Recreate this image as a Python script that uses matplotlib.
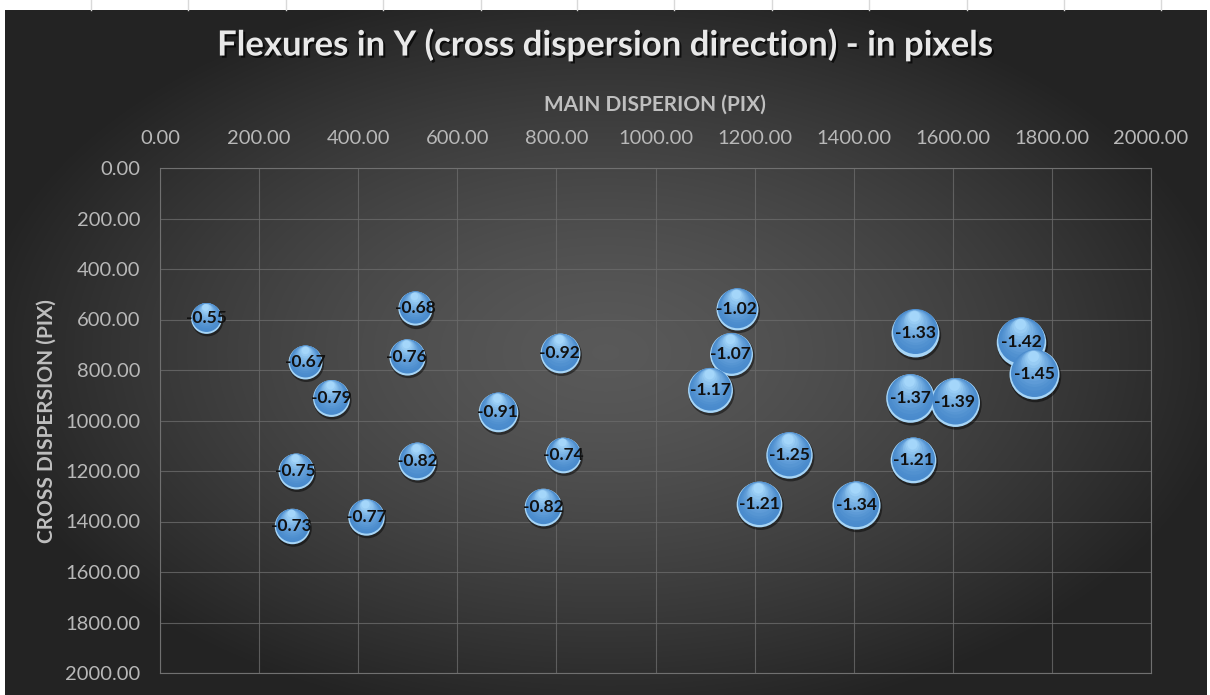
import numpy as np
import matplotlib
matplotlib.use('Agg')
import matplotlib.pyplot as plt
import matplotlib.patheffects as pe
from matplotlib.colors import to_rgb
from matplotlib.transforms import ScaledTranslation

plt.rcParams['font.family'] = ['Lato', 'DejaVu Sans']

# Flexure measurements: position on the detector and shift in Y (pixels)
main_disp = [93, 515, 293, 498, 345, 807, 682, 274, 519, 813, 266, 416, 773,
             1164, 1152, 1110, 1270, 1209, 1405, 1524, 1514, 1604, 1520, 1738, 1764]
cross_disp = [594, 556, 768, 748, 911, 733, 966, 1200, 1160, 1137, 1418, 1382, 1343,
              558, 737, 879, 1137, 1331, 1335, 653, 911, 927, 1156, 689, 816]
flexure_y = [-0.55, -0.68, -0.67, -0.76, -0.79, -0.92, -0.91, -0.75, -0.82, -0.74, -0.73, -0.77, -0.82,
             -1.02, -1.07, -1.17, -1.25, -1.21, -1.34, -1.33, -1.37, -1.39, -1.21, -1.42, -1.45]

x_ticks = np.arange(0, 2001, 200)
y_ticks = np.arange(0, 2001, 200)

W, H = 1210, 695
fig = plt.figure(figsize=(W / 100, H / 100), dpi=100)
fig.patch.set_facecolor('white')

# spreadsheet cell lines peeking out above the chart
for gx in [91, 188, 286, 383, 481, 577, 674, 772, 869, 967, 1064, 1161]:
    fig.add_artist(plt.Line2D([gx / W, gx / W], [1 - 10 / H, 1], color='#d9d9d9', lw=1))

# chart area with radial shading
bg = fig.add_axes([5 / W, 0, 1202 / W, 1 - 10 / H])
gx, gy = np.meshgrid(np.linspace(-1, 1, 600), np.linspace(-1, 1, 340))
r = np.clip(np.sqrt((gx / 1.05) ** 2 + (gy / 1.1) ** 2), 0, 1)
shade = 0.35 - 0.21 * r ** 1.4
bg.imshow(np.dstack([shade] * 3), aspect='auto', extent=[0, 1, 0, 1], interpolation='bilinear')
bg.set_axis_off()

ax = fig.add_axes([160 / W, 1 - 673 / H, 991 / W, 505 / H])
ax.patch.set_alpha(0)
ax.set_xlim(0, 2000)
ax.set_ylim(2000, 0)
ax.set_xticks(x_ticks)
ax.set_yticks(y_ticks)
ax.set_xticklabels([f'{v:.2f}' for v in x_ticks])
ax.set_yticklabels([f'{v:.2f}' for v in y_ticks])
ax.xaxis.tick_top()
ax.tick_params(axis='x', length=0, pad=15, labelsize=14.5, labelcolor='#b8b8b8')
ax.tick_params(axis='y', length=0, pad=14, labelsize=14.5, labelcolor='#b8b8b8')
ax.grid(True, color='#6a6a6a', lw=0.8, alpha=0.8)
for sp in ax.spines.values():
    sp.set_color('#707070')
    sp.set_linewidth(0.8)
ax.set_axisbelow(True)

fig.text(0.5, 1 - 45 / H, 'Flexures in Y (cross dispersion direction) - in pixels',
         ha='center', va='center', fontsize=25, fontweight='bold', color='#e8e8e8',
         path_effects=[pe.SimplePatchShadow(offset=(1.5, -1.5), shadow_rgbFace='black', alpha=0.7),
                       pe.Normal()])
fig.text(655 / W, 1 - 105 / H, 'MAIN DISPERION (PIX)', ha='center', va='center',
         fontsize=15, fontweight='bold', color='#bfbfbf')
fig.text(47 / W, 1 - 421 / H, 'CROSS DISPERSION (PIX)', ha='center', va='center',
         rotation=90, fontsize=15, fontweight='bold', color='#bfbfbf')

# glossy bubbles, area proportional to |flexure|
size_scale = 894
dark = np.array(to_rgb('#4a8bcd'))
light = np.array(to_rgb('#a4d6fa'))
n_layers = 12
for x, y, v in zip(main_disp, cross_disp, flexure_y):
    s = abs(v) * size_scale
    d = np.sqrt(s)

    def shifted(dx, dy):
        return ax.transData + ScaledTranslation(dx / 72, dy / 72, fig.dpi_scale_trans)

    ax.scatter([x], [y], s=s * 1.06, color='black', alpha=0.45, lw=0,
               transform=shifted(0.6, -1.6), zorder=3)
    ax.scatter([x], [y], s=s, color='#a7d5f6', lw=0, zorder=4)
    for k in range(n_layers):
        t = k / (n_layers - 1)
        frac = 0.94 - 0.72 * t
        col = dark + (light - dark) * t ** 1.5
        ax.scatter([x], [y], s=(frac * d) ** 2, color=col, lw=0,
                   transform=shifted(-0.02 * d * t, (0.94 - frac) * 0.45 * d + 0.03 * d),
                   zorder=5)
    ax.text(x, y, f'{v:.2f}', ha='center', va='center', fontsize=12.5,
            fontweight='bold', color='#111111', zorder=10)

fig.savefig('out.png', dpi=100)
